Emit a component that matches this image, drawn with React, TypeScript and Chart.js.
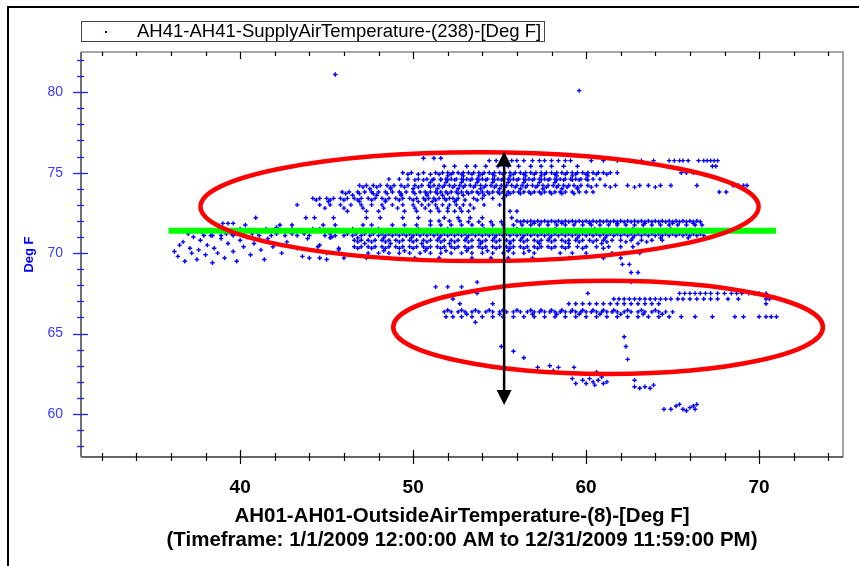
import React, { useEffect, useRef } from 'react';
import { Chart, registerables } from 'chart.js';
Chart.register(...registerables);

const FONT = '"Liberation Sans", Arial, sans-serif';

// Axis ticks
const xTickLabels = [40, 50, 60, 70];
const yTickLabels = [60, 65, 70, 75, 80];
const xMinorTicks = [32, 34, 36, 38, 40, 42, 44, 46, 48, 50, 52, 54, 56, 58, 60, 62, 64, 66, 68, 70, 72, 74];
const yMinorTicks = [58, 59, 60, 61, 62, 63, 64, 65, 66, 67, 68, 69, 70, 71, 72, 73, 74, 75, 76, 77, 78, 79, 80, 81, 82];

// Scatter rows: each row lists outside-air x values read at one supply-air level
const r7590 = [50.6, 51.2, 51.6];
const r7575 = [54.4, 54.8, 55.3, 55.7, 56.0, 56.4, 56.9, 57.3, 57.6, 58.0, 58.4, 58.8, 59.1, 60.3, 61.0, 61.8, 62.5, 63.2, 63.9, 64.8, 65.1, 65.4, 65.6, 65.9, 66.5, 66.8, 67.0, 67.2, 67.4, 67.6];
const r7540 = [51.8, 52.4, 53.1, 53.6, 54.2, 54.9, 55.5, 56.1, 56.8, 57.4, 58.0, 58.7, 59.5, 67.3, 67.5];
const r7500 = [49.4, 49.9, 50.6, 51.3, 51.7, 52.0, 52.3, 52.6, 52.9, 53.2, 53.5, 53.8, 54.1, 54.4, 54.7, 55.0, 55.3, 55.6, 55.9, 56.2, 56.5, 56.8, 57.1, 57.4, 57.7, 58.0, 58.3, 58.6, 58.9, 59.2, 59.5, 59.8, 60.1, 60.4, 60.7, 61.0, 61.4, 61.8, 65.5, 65.8, 66.2];
const r7490 = [49.7, 50.3, 51.0, 51.5, 52.2, 52.8, 53.4, 54.0, 54.6, 55.2, 55.8, 56.4, 57.0, 57.6, 58.2, 58.8, 59.4, 60.0, 60.6, 61.2];
const r7480 = [52.0, 52.9, 53.8, 54.7, 55.6, 56.5, 57.4, 58.3, 59.2, 60.1];
const r7460 = [48.6, 49.2, 49.7, 50.3, 50.8, 51.2, 51.6, 51.9, 52.2, 52.5, 52.8, 53.1, 53.4, 53.7, 54.0, 54.3, 54.6, 54.9, 55.2, 55.5, 55.8, 56.1, 56.4, 56.7, 57.0, 57.3, 57.6, 57.9, 58.2, 58.5, 58.8, 59.1, 59.4, 59.7, 60.0, 60.4, 60.8];
const r7455 = [50.1, 50.6, 51.1, 51.6, 52.0, 52.4, 52.9, 53.3, 53.8, 54.2, 54.7, 55.1, 55.6, 56.0, 56.5, 56.9, 57.4, 57.8, 58.3, 58.7, 59.2, 59.6, 60.1];
const r7440 = [51.0, 51.9, 52.8, 53.7, 54.6, 55.5, 56.4, 57.3, 58.2];
const r7420 = [46.9, 47.3, 47.7, 48.1, 48.5, 48.9, 49.3, 49.7, 50.1, 50.5, 50.9, 51.2, 51.5, 51.8, 52.1, 52.4, 52.7, 53.0, 53.3, 53.6, 53.9, 54.2, 54.5, 54.8, 55.1, 55.4, 55.7, 56.0, 56.3, 56.6, 56.9, 57.2, 57.5, 57.8, 58.1, 58.4, 58.7, 59.0, 59.3, 59.7, 60.1, 60.6, 61.1, 61.7, 62.4, 63.1, 63.6, 64.3, 64.9, 66.4, 68.5, 68.8, 69.1, 69.3];
const r7410 = [47.1, 47.9, 48.7, 49.5, 50.3, 51.0, 51.7, 52.3, 52.9, 53.5, 54.1, 54.7, 55.3, 55.9, 56.5, 57.1, 57.7, 58.3, 58.9, 59.5, 60.3, 61.4, 62.8, 64.0];
const r7400 = [47.5, 48.7, 50.0, 51.4, 52.6, 53.9, 55.0, 56.2, 57.5, 58.6, 59.5];
const r7380 = [45.9, 46.3, 46.8, 47.2, 47.6, 48.0, 48.4, 48.8, 49.2, 49.6, 50.0, 50.4, 50.7, 51.0, 51.3, 51.6, 51.9, 52.2, 52.5, 52.8, 53.1, 53.4, 53.7, 54.0, 54.3, 54.6, 54.9, 55.2, 55.5, 55.8, 56.1, 56.4, 56.7, 57.0, 57.3, 57.6, 57.9, 58.2, 58.5, 58.8, 59.2, 59.6, 60.0, 60.4, 67.7, 68.1];
const r7370 = [46.1, 46.9, 47.7, 48.5, 49.3, 50.1, 50.8, 51.4, 52.0, 52.6, 53.2, 53.8, 54.4, 55.0, 55.6, 56.2, 56.8, 57.4, 58.0, 58.6, 59.3];
const r7360 = [46.5, 47.9, 49.3, 50.8, 51.7, 52.9, 54.1, 55.4];
const r7340 = [44.2, 44.6, 45.0, 45.4, 45.8, 46.2, 46.6, 47.0, 47.4, 47.8, 48.2, 48.6, 49.0, 49.4, 49.8, 50.2, 50.6, 50.9, 51.2, 51.5, 51.8, 52.1, 52.3, 52.6, 53.5, 54.0, 54.6, 55.2];
const r7330 = [44.4, 45.2, 46.0, 46.8, 47.6, 48.4, 49.2, 50.0, 50.7, 51.3, 51.9, 52.5, 53.0, 53.7];
const r7320 = [45.1, 46.9, 48.4, 50.3, 51.1, 52.4];
const r7300 = [43.3, 44.6, 45.2, 45.8, 46.4, 47.0, 47.6, 48.2, 48.8, 49.4, 50.0, 50.5, 50.9, 51.3, 51.7, 52.1, 52.5, 52.9, 53.3, 54.1, 55.0];
const r7280 = [44.9, 46.0, 47.1, 48.3, 49.1, 50.1, 50.7, 51.4, 52.0, 52.7, 53.5];
const r7260 = [46.2, 47.3, 48.0, 49.5, 50.2, 51.0, 51.5, 52.0, 52.4, 52.8, 53.2, 55.6, 56.0];
const r7220 = [40.9, 43.8, 44.3, 45.4, 47.3, 48.1, 49.4, 50.3, 51.8, 52.6, 53.3, 54.0, 55.7];
const r7200 = [51.0, 51.5, 52.1, 52.7, 56.0, 56.4, 56.8, 57.2, 57.6, 58.0, 58.4, 58.8, 59.2, 59.6, 60.0, 60.4, 60.8, 61.2, 61.6, 62.0, 62.4, 62.8, 63.2, 63.6, 64.0, 64.4, 64.8, 65.2, 65.6, 66.0, 66.4];
const r7195 = [53.2, 53.8, 54.5, 55.1, 56.2, 56.6, 57.0, 57.4, 57.8, 58.2, 58.6, 59.0, 59.4, 59.8, 60.2, 60.6, 61.0, 61.4, 61.8, 62.2, 62.6, 63.0, 63.4, 63.8, 64.2, 64.6, 65.0, 65.4, 65.8, 66.2, 66.6];
const r7185 = [39.0, 39.3, 39.6, 57.0, 58.6, 60.2, 61.8, 63.4, 65.0, 66.2];
const r7175 = [40.3, 42.3, 43.0, 44.8, 45.5, 47.1, 47.6, 48.8, 49.5, 50.2, 51.0, 51.6, 52.2, 52.8, 53.4, 54.0, 54.6, 55.2, 55.8, 56.3, 56.8, 57.3, 57.8, 58.3, 58.8, 59.3, 59.8, 60.3, 60.8, 61.3, 61.8, 62.3, 62.8, 63.3, 63.8, 64.3, 64.8, 65.3, 65.8, 66.3, 66.7];
const r7150 = [40.0, 41.5, 43.0, 44.6, 46.5, 48.0, 50.3, 52.0, 54.1, 56.0, 58.2, 60.5, 62.7, 64.9];
const r7120 = [39.2, 40.7, 42.1, 43.7, 45.2, 46.2, 46.7, 47.2, 47.7, 48.2, 48.6, 49.0, 49.4, 49.8, 50.2, 50.6, 51.0, 51.4, 51.8, 52.2, 52.6, 53.0, 53.4, 53.8, 54.2, 54.6, 55.0, 55.4, 55.8, 56.2, 56.6, 57.0, 57.4, 57.8, 58.2, 58.6, 59.0, 59.4, 59.8, 60.2, 60.6, 61.0, 61.4, 61.8, 62.2, 62.6, 63.0, 63.4, 63.8, 64.2, 64.6, 65.0, 65.4, 65.8, 66.2, 66.6];
const r7110 = [37.9, 38.4, 38.9, 39.6, 40.2, 41.1, 41.8, 42.6, 43.3, 44.0, 44.9, 45.5, 46.0, 46.5, 47.0, 47.5, 48.0, 48.4, 48.8, 49.2, 49.6, 50.0, 50.4, 50.8, 51.2, 51.6, 52.0, 52.4, 52.8, 53.2, 53.6, 54.0, 54.4, 54.8, 55.2, 55.6, 56.0, 56.4, 56.8, 57.2, 57.6, 58.0, 58.4, 58.8, 59.2, 59.6, 60.0, 60.4, 60.8, 61.2, 61.6, 62.0, 62.4, 62.8, 63.2, 63.6, 64.0, 64.4, 64.8, 65.2, 65.6, 66.0, 66.4, 66.8];
const r7095 = [45.2, 46.8, 48.3, 49.9, 51.5, 53.1, 54.7, 56.3, 57.9, 59.5, 61.1, 62.7, 64.3, 65.9];
const r7080 = [46.6, 47.0, 47.4, 47.8, 48.2, 48.6, 49.0, 49.4, 49.8, 50.2, 50.6, 51.0, 51.4, 51.8, 52.2, 52.6, 53.0, 53.4, 53.8, 54.2, 54.6, 55.0, 55.4, 55.8, 56.2, 56.6, 57.0, 57.4, 57.8, 58.2, 58.6, 59.0, 59.4, 59.8, 60.2, 60.6, 61.0, 61.5, 62.0, 62.6, 63.2, 63.8, 64.4];
const r7070 = [46.8, 47.6, 48.4, 49.2, 50.0, 50.8, 51.6, 52.4, 53.2, 54.0, 54.8, 55.6, 56.4, 57.2, 58.0, 58.8, 59.6, 60.4, 61.2, 62.3, 63.5];
const r7060 = [47.2, 48.7, 50.5, 52.1, 53.9, 55.6, 57.3, 59.0, 60.9, 63.0];
const r7040 = [44.5, 46.6, 47.0, 47.4, 47.8, 48.2, 48.6, 49.0, 49.4, 49.8, 50.2, 50.6, 51.0, 51.4, 51.8, 52.2, 52.6, 53.0, 53.4, 53.8, 54.2, 54.6, 55.0, 55.4, 55.8, 56.2, 56.6, 57.0, 57.4, 57.8, 58.2, 58.6, 59.0, 59.5, 60.0, 60.6, 61.3, 62.0, 62.7];
const r7030 = [45.7, 46.8, 47.6, 48.4, 49.2, 50.0, 50.8, 51.6, 52.4, 53.2, 54.0, 54.8, 55.6, 56.4, 57.2, 58.0, 58.8, 59.8, 61.0];
const r7015 = [48.3, 49.5, 50.7, 51.9, 53.1, 54.3, 55.5, 56.7];
const r7000 = [45.0, 47.4, 48.0, 48.6, 49.2, 49.8, 50.4, 51.0, 51.6, 52.2, 52.8, 53.4, 54.0, 54.6, 55.2, 55.8, 56.4, 57.0, 58.5, 59.2, 60.0, 61.5, 62.2, 63.1];
const r6970 = [44.0, 44.6, 46.0, 47.3, 50.1, 51.5, 53.4, 54.5, 55.5, 56.9, 59.0, 61.0, 62.0];
const r6930 = [62.1, 62.5];
const r6880 = [62.6, 63.0];
const r6820 = [53.7, 62.6];
const r6790 = [51.3, 52.0, 52.8];
const r6750 = [53.7, 60.1, 65.4, 65.7, 66.0, 66.3, 66.6, 66.9, 67.2, 67.6, 68.0, 68.4, 68.7, 69.0, 69.4, 69.7, 70.0, 70.4];
const r6715 = [52.3, 61.6, 61.9, 62.2, 62.5, 62.8, 63.1, 63.4, 63.7, 64.0, 64.3, 64.6, 64.9, 65.3, 65.6, 66.0, 66.4, 66.8, 67.2, 67.6, 68.2, 68.8, 70.4, 70.6];
const r6685 = [52.7, 54.6, 59.0, 59.4, 59.8, 60.2, 60.6, 61.0, 61.4, 61.8, 62.2, 62.6, 63.0, 63.4, 63.8, 64.2, 70.4];
const r6645 = [52.0, 52.8, 53.6, 54.4, 55.2, 56.0, 56.8, 57.4, 58.0, 58.6, 59.2, 59.8, 60.4, 61.0, 61.6, 62.4, 63.2, 64.0];
const r6635 = [51.8, 52.2, 52.6, 53.0, 53.4, 53.8, 54.2, 54.6, 55.0, 55.4, 55.8, 56.2, 56.6, 57.0, 57.3, 57.6, 57.9, 58.2, 58.5, 58.8, 59.1, 59.4, 59.7, 60.0, 60.3, 60.6, 60.9, 61.2, 61.5, 61.8, 62.2, 62.6, 63.0, 63.4, 63.8, 64.2, 64.6, 65.0];
const r6620 = [53.1, 55.0, 56.9, 58.3, 59.6, 60.8, 62.0, 63.3, 64.4];
const r6605 = [51.9, 52.3, 52.8, 53.4, 54.0, 54.6, 55.2, 55.8, 56.4, 57.0, 57.6, 58.2, 58.8, 59.4, 60.0, 60.6, 61.2, 61.8, 62.4, 63.0, 63.6, 64.2, 64.8, 65.5, 66.3, 67.3, 68.6, 69.1, 70.0, 70.4, 70.7, 71.0];
const r6570 = [53.6];

const bandLevels = [75.9, 75.75, 75.4, 75.0, 74.9, 74.8, 74.6, 74.55, 74.4, 74.2, 74.1, 74.0, 73.8, 73.7, 73.6, 73.4, 73.3, 73.2, 73.0, 72.8, 72.6, 72.2, 72.0, 71.95, 71.85, 71.75, 71.5, 71.2, 71.1, 70.95, 70.8, 70.7, 70.6, 70.4, 70.3, 70.15, 70.0, 69.7, 69.3, 68.8, 68.2, 67.9, 67.5, 67.15, 66.85, 66.45, 66.35, 66.2, 66.05, 65.7];
const bandRows = [r7590, r7575, r7540, r7500, r7490, r7480, r7460, r7455, r7440, r7420, r7410, r7400, r7380, r7370, r7360, r7340, r7330, r7320, r7300, r7280, r7260, r7220, r7200, r7195, r7185, r7175, r7150, r7120, r7110, r7095, r7080, r7070, r7060, r7040, r7030, r7015, r7000, r6970, r6930, r6880, r6820, r6790, r6750, r6715, r6685, r6645, r6635, r6620, r6605, r6570];

// Scattered points (cold-weather cluster on the left)
const leftX = [36.2, 36.4, 36.5, 36.7, 36.8, 37.0, 37.1, 37.2, 37.3, 37.5, 37.6, 37.7, 37.8, 38.0, 38.1, 38.3, 38.4, 38.5, 38.7, 38.9, 39.0, 39.1, 39.3, 39.5, 39.6, 39.8, 40.0, 40.2, 40.4, 40.6, 40.8, 41.0, 41.2, 41.4, 41.6, 41.9, 42.1, 42.4, 42.7, 43.0, 43.3, 43.6, 43.9, 44.2, 44.6, 45.0, 45.3, 45.7];
const leftY = [70.1, 69.8, 70.5, 70.7, 69.5, 71.2, 70.3, 70.0, 71.0, 69.6, 70.2, 70.8, 71.3, 69.9, 70.5, 71.1, 69.4, 70.3, 70.0, 70.9, 71.4, 69.7, 70.6, 71.2, 70.1, 69.5, 70.8, 70.4, 71.0, 69.9, 70.6, 71.3, 70.2, 69.6, 70.9, 70.4, 71.6, 70.0, 70.7, 71.2, 70.3, 69.8, 70.9, 71.5, 70.5, 69.6, 71.0, 70.2];

// Low readings and outliers
const lowX = [62.2, 62.3, 62.4, 55.1, 55.8, 56.4, 57.2, 57.9, 58.4, 59.3, 58.1, 60.6, 59.2, 59.4, 59.8, 60.0, 60.2, 60.4, 60.5, 60.7, 60.9, 61.0, 61.2, 62.8, 62.8, 63.1, 63.4, 63.7, 63.9, 64.5, 64.9, 65.2, 65.4, 65.6, 65.8, 66.0, 66.2, 66.4, 66.3, 45.5, 59.6];
const lowY = [64.8, 64.2, 63.4, 64.2, 63.9, 63.5, 62.9, 63.0, 62.9, 62.9, 62.7, 62.6, 62.2, 61.9, 62.1, 61.9, 62.2, 62.0, 61.8, 62.1, 62.3, 61.9, 62.0, 62.1, 61.7, 61.6, 61.7, 61.6, 61.8, 60.3, 60.3, 60.5, 60.6, 60.3, 60.2, 60.4, 60.5, 60.6, 60.3, 81.1, 80.1];

// Annotations (in axis units)
const ellipseCX = [53.84, 61.27];
const ellipseCY = [72.89, 65.39];
const ellipseRX = [16.13, 12.42];
const ellipseRY = [3.38, 2.9];
const setpointY = 71.39;
const setpointX = [35.86, 70.98];
const arrowX = 55.26;
const arrowY = [76.31, 60.56];

const X_MIN = 30.8, X_MAX = 74.85, Y_MIN = 57.33, Y_MAX = 82.5;

function buildPoints() {
  const pts: { x: number; y: number }[] = [];
  bandRows.forEach((row, i) => row.forEach((x) => pts.push({ x, y: bandLevels[i] })));
  leftX.forEach((x, i) => pts.push({ x, y: leftY[i] }));
  lowX.forEach((x, i) => pts.push({ x, y: lowY[i] }));
  return pts;
}

const axesPlugin = {
  id: 'customAxes',
  beforeDatasetsDraw(chart: any) {
    const { ctx, chartArea } = chart;
    const { left, right, top, bottom } = chartArea;
    const xs = chart.scales.x, ys = chart.scales.y;
    ctx.save();
    ctx.strokeStyle = '#8a8a8a';
    ctx.lineWidth = 1.5;
    ctx.beginPath();
    ctx.moveTo(left, top); ctx.lineTo(right, top); ctx.lineTo(right, bottom);
    ctx.stroke();
    ctx.strokeStyle = '#333';
    ctx.beginPath(); ctx.moveTo(left, bottom); ctx.lineTo(right, bottom); ctx.stroke();
    ctx.strokeStyle = '#000';
    ctx.lineWidth = 1.2;
    xMinorTicks.forEach((v) => {
      const px = Math.round(xs.getPixelForValue(v)) + 0.5;
      const major = xTickLabels.includes(v);
      const len = major ? 7 : 4;
      ctx.beginPath();
      ctx.moveTo(px, bottom - len); ctx.lineTo(px, bottom + len);
      ctx.moveTo(px, top); ctx.lineTo(px, top + len);
      ctx.stroke();
    });
    ctx.strokeStyle = '#707070';
    ctx.lineWidth = 2;
    ctx.beginPath(); ctx.moveTo(left, top); ctx.lineTo(left, bottom); ctx.stroke();
    ctx.strokeStyle = '#2020ff';
    ctx.lineWidth = 1.3;
    yMinorTicks.forEach((v) => {
      const py = Math.round(ys.getPixelForValue(v)) + 0.5;
      const major = yTickLabels.includes(v);
      ctx.beginPath();
      if (major) { ctx.moveTo(left - 8, py); ctx.lineTo(left + 7, py); }
      else { ctx.moveTo(left - 4, py); ctx.lineTo(left + 3, py); }
      ctx.stroke();
    });
    ctx.restore();
  },
};

const overlayPlugin = {
  id: 'overlay',
  afterDatasetsDraw(chart: any) {
    const { ctx } = chart;
    const xs = chart.scales.x, ys = chart.scales.y;
    ctx.save();
    ctx.strokeStyle = '#00ff00';
    ctx.lineWidth = 6;
    ctx.beginPath();
    ctx.moveTo(xs.getPixelForValue(setpointX[0]), ys.getPixelForValue(setpointY));
    ctx.lineTo(xs.getPixelForValue(setpointX[1]), ys.getPixelForValue(setpointY));
    ctx.stroke();
    ctx.strokeStyle = '#ff0000';
    ctx.lineWidth = 4.5;
    ellipseCX.forEach((cx, i) => {
      const px = xs.getPixelForValue(cx), py = ys.getPixelForValue(ellipseCY[i]);
      const rx = Math.abs(xs.getPixelForValue(cx + ellipseRX[i]) - px);
      const ry = Math.abs(ys.getPixelForValue(ellipseCY[i] + ellipseRY[i]) - py);
      ctx.beginPath();
      ctx.ellipse(px, py, rx, ry, 0, 0, Math.PI * 2);
      ctx.stroke();
    });
    const ax = xs.getPixelForValue(arrowX);
    const yTop = ys.getPixelForValue(arrowY[0]);
    const yBot = ys.getPixelForValue(arrowY[1]);
    const head = 15, half = 7.5;
    ctx.strokeStyle = '#000';
    ctx.fillStyle = '#000';
    ctx.lineWidth = 2.5;
    ctx.beginPath(); ctx.moveTo(ax, yTop + head - 1); ctx.lineTo(ax, yBot - head + 1); ctx.stroke();
    ctx.beginPath(); ctx.moveTo(ax, yTop); ctx.lineTo(ax - half, yTop + head); ctx.lineTo(ax + half, yTop + head); ctx.closePath(); ctx.fill();
    ctx.beginPath(); ctx.moveTo(ax, yBot); ctx.lineTo(ax - half, yBot - head); ctx.lineTo(ax + half, yBot - head); ctx.closePath(); ctx.fill();
    ctx.restore();
  },
};

export default function App() {
  const ref = useRef<HTMLCanvasElement>(null);
  useEffect(() => {
    if (!ref.current) return;
    const chart = new Chart(ref.current, {
      type: 'scatter',
      data: {
        datasets: [
          {
            label: 'AH41-AH41-SupplyAirTemperature-(238)-[Deg F]',
            data: buildPoints(),
            pointStyle: 'cross',
            pointRadius: 2.2,
            borderColor: '#0000ff',
            backgroundColor: '#0000ff',
            borderWidth: 1.4,
          },
        ],
      },
      options: {
        animation: false,
        responsive: false,
        maintainAspectRatio: false,
        events: [],
        layout: { padding: { left: 0, top: 52, right: 16, bottom: 0 } },
        plugins: { legend: { display: false }, tooltip: { enabled: false } },
        scales: {
          x: {
            type: 'linear',
            min: X_MIN,
            max: X_MAX,
            grid: { display: false, drawTicks: false },
            border: { display: false },
            afterBuildTicks: (s: any) => { s.ticks = xTickLabels.map((v) => ({ value: v })); },
            afterFit: (s: any) => { s.height = 109; },
            ticks: { color: '#000', font: { family: FONT, size: 19, weight: 'bold' }, padding: 19, maxRotation: 0 },
            title: {
              display: true,
              text: ['AH01-AH01-OutsideAirTemperature-(8)-[Deg F]', '(Timeframe: 1/1/2009 12:00:00 AM to 12/31/2009 11:59:00 PM)'],
              color: '#000',
              font: { family: FONT, size: 20.5, weight: 'bold', lineHeight: 1.17 },
              padding: { top: 0, bottom: 14 },
            },
          },
          y: {
            type: 'linear',
            min: Y_MIN,
            max: Y_MAX,
            grid: { display: false, drawTicks: false },
            border: { display: false },
            afterBuildTicks: (s: any) => { s.ticks = yTickLabels.map((v) => ({ value: v })); },
            afterFit: (s: any) => { s.width = 81; },
            ticks: { color: '#3a3aff', font: { family: FONT, size: 14 }, padding: 18 },
            title: {
              display: true,
              text: 'Deg F',
              color: '#0000ff',
              font: { family: FONT, size: 13, weight: 'bold' },
              padding: { top: 22, bottom: 0 },
            },
          },
        },
      },
      plugins: [axesPlugin, overlayPlugin],
    });
    return () => chart.destroy();
  }, []);

  return (
    <div style={{ position: 'fixed', left: 0, top: 0, width: 859, height: 566, background: '#fff', overflow: 'hidden' }}>
      <div style={{ position: 'absolute', left: 7, top: 6, width: 900, height: 600, borderLeft: '2px solid #000', borderTop: '2px solid #000' }} />
      <canvas ref={ref} width={859} height={566} style={{ position: 'absolute', left: 0, top: 0, display: 'block' }} />
      <div style={{ position: 'absolute', left: 81, top: 21, width: 464, height: 21, border: '1px solid #444', boxSizing: 'border-box', fontFamily: FONT, fontSize: 18.5, color: '#000' }}>
        <span style={{ position: 'absolute', left: 23, top: 9, width: 2, height: 2, background: '#0000ff' }} />
        <span style={{ position: 'absolute', left: 55, top: -1, lineHeight: '20px', whiteSpace: 'nowrap' }}>AH41-AH41-SupplyAirTemperature-(238)-[Deg F]</span>
      </div>
    </div>
  );
}
